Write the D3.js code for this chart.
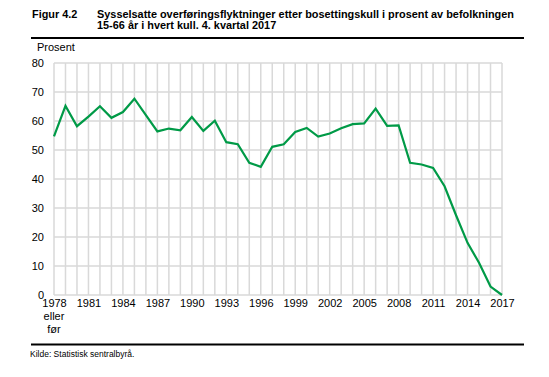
<!doctype html>
<html lang="no">
<head>
<meta charset="utf-8">
<title>Figur 4.2</title>
<script src="https://d3js.org/d3.v7.min.js"></script>
<style>
  body { margin:0; background:#fff; }
  text { font-family:"Liberation Sans", Arial, sans-serif; fill:#000; }
  .grid line { stroke:#d9d9d9; stroke-width:1.5; }
  .tick text { font-size:10px; }
</style>
</head>
<body>
<script>
  // bosettingskull (1978 = "1978 eller før")
  var years = d3.range(1978, 2018);
  // sysselsatte i prosent av befolkningen 15-66 år
  var values = [54.7, 65.2, 58.2, 61.5, 65.1, 61.1, 63.1, 67.7, 62.0, 56.4,
                57.4, 56.8, 61.4, 56.6, 60.1, 52.7, 52.0, 45.6, 44.2, 51.1,
                52.0, 56.2, 57.6, 54.6, 55.7, 57.5, 58.9, 59.2, 64.3, 58.3,
                58.5, 45.6, 45.0, 43.8, 37.5, 27.5, 18.0, 11.1, 2.9, 0.0];
  var xTicks = d3.range(1978, 2018, 3);
  var yTicks = [0, 10, 20, 30, 40, 50, 60, 70, 80];
  var figNo = "Figur 4.2";
  var titleLines = ["Sysselsatte overføringsflyktninger etter bosettingskull i prosent av befolkningen",
                    "15-66 år i hvert kull. 4. kvartal 2017"];
  var source = "Kilde: Statistisk sentralbyrå.";

  var W = 549, H = 377;
  var margin = {left:54, right:47, top:63, bottom:82};

  var svg = d3.select("body").append("svg")
    .attr("width", W).attr("height", H);

  var x = d3.scaleLinear().domain([1978, 2017]).range([margin.left, W - margin.right]);
  var y = d3.scaleLinear().domain([0, 80]).range([H - margin.bottom, margin.top]);

  // title
  svg.append("text").attr("x", 32).attr("y", 17.5)
    .style("font-size", "10.9px").style("font-weight", "bold").text(figNo);
  svg.selectAll(".title").data(titleLines).enter().append("text")
    .attr("x", 97).attr("y", (d, i) => 17.5 + i * 11.5)
    .style("font-size", "10.9px").style("font-weight", "bold").text(d => d);
  svg.append("line").attr("x1", 31).attr("x2", 524).attr("y1", 38).attr("y2", 38)
    .attr("stroke", "#000").attr("stroke-width", 2);

  // grid
  var g = svg.append("g").attr("class", "grid");
  g.selectAll(".v").data(years).enter().append("line")
    .attr("x1", d => x(d)).attr("x2", d => x(d))
    .attr("y1", y(80)).attr("y2", y(0));
  g.selectAll(".h").data(yTicks).enter().append("line")
    .attr("x1", x(1978)).attr("x2", x(2017))
    .attr("y1", d => y(d)).attr("y2", d => y(d));

  // y axis
  var yAxis = d3.axisLeft(y).tickValues(yTicks).tickSize(0).tickPadding(10);
  svg.append("g").attr("transform", "translate(" + margin.left + ",0)")
    .call(yAxis).call(a => a.select(".domain").remove())
    .selectAll("text").style("font-size", "11px");
  svg.append("text").attr("x", 37).attr("y", 51).style("font-size", "11px").text("Prosent");

  // x axis
  var xAxis = d3.axisBottom(x).tickValues(xTicks).tickFormat(d3.format("d")).tickSize(0).tickPadding(4);
  svg.append("g").attr("transform", "translate(0," + y(0) + ")")
    .call(xAxis).call(a => a.select(".domain").remove())
    .selectAll("text").style("font-size", "11px");
  svg.append("text").attr("x", x(1978)).attr("y", y(0) + 25).attr("text-anchor", "middle")
    .style("font-size", "11px").text("eller");
  svg.append("text").attr("x", x(1978)).attr("y", y(0) + 37.5).attr("text-anchor", "middle")
    .style("font-size", "11px").text("før");

  // line
  var line = d3.line().x((d, i) => x(years[i])).y(d => y(d));
  svg.append("path").datum(values)
    .attr("d", line)
    .attr("fill", "none").attr("stroke", "#009a47").attr("stroke-width", 2.2)
    .attr("stroke-linejoin", "miter");

  // bottom rule + source
  svg.append("line").attr("x1", 31).attr("x2", 524).attr("y1", 344.5).attr("y2", 344.5)
    .attr("stroke", "#000").attr("stroke-width", 2);
  svg.append("text").attr("x", 30).attr("y", 357).style("font-size", "8.5px").text(source);
</script>
</body>
</html>
